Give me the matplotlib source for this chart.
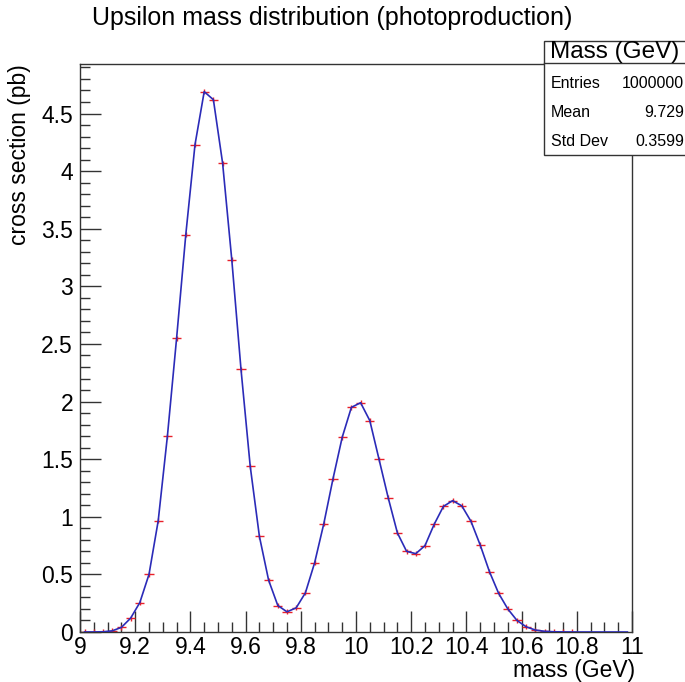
import numpy as np
import matplotlib
matplotlib.use("Agg")
import matplotlib.pyplot as plt
from matplotlib.ticker import MultipleLocator, FuncFormatter
from matplotlib.patches import Rectangle
from matplotlib.lines import Line2D

plt.rcParams['font.family'] = ['Liberation Sans', 'DejaVu Sans']

# histogram: 60 bins from 9 to 11 GeV, contents (pb)
bin_lo = 9.0
bin_hi = 11.0
n_bins = 60
xsec = [0.0001, 0.0005, 0.002, 0.01, 0.04, 0.12, 0.255, 0.50, 0.965, 1.70,
        2.55, 3.45, 4.23, 4.69, 4.62, 4.07, 3.23, 2.28, 1.44, 0.83,
        0.45, 0.23, 0.175, 0.21, 0.34, 0.60, 0.94, 1.33, 1.69, 1.95,
        1.99, 1.835, 1.50, 1.165, 0.86, 0.70, 0.68, 0.75, 0.935, 1.09,
        1.14, 1.095, 0.96, 0.755, 0.525, 0.336, 0.20, 0.10, 0.045, 0.017,
        0.006, 0.002, 0.0007, 0.0002, 0.0, 0.0, 0.0, 0.0, 0.0, 0.0]
xsec_err = 0.022

# stats box
stats_title = "Mass (GeV)"
stats_names = ["Entries", "Mean", "Std Dev"]
stats_values = ["1000000", "9.729", "0.3599"]

title = "Upsilon mass distribution (photoproduction)"
xlabel = "mass (GeV)"
ylabel = "cross section (pb)"

W, H = 685, 682
fig = plt.figure(figsize=(W / 100, H / 100), dpi=100)
ax = fig.add_axes([80 / W, 1 - 632 / H, (632 - 80) / W, (632 - 64) / H])

width = (bin_hi - bin_lo) / n_bins
centers = bin_lo + width * (np.arange(n_bins) + 0.5)
y = np.array(xsec)
filled = y > 0

ax.errorbar(centers[filled], y[filled], xerr=width / 2, yerr=xsec_err,
            fmt='none', ecolor='#e8202a', elinewidth=1.0, capsize=0, zorder=2)
ax.plot(centers, y, color='#2b2bb8', lw=1.2, zorder=3)

ax.set_xlim(bin_lo, bin_hi)
ax.set_ylim(0, 4.93)
ax.xaxis.set_major_locator(MultipleLocator(0.2))
ax.xaxis.set_minor_locator(MultipleLocator(0.05))
ax.yaxis.set_major_locator(MultipleLocator(0.5))
ax.yaxis.set_minor_locator(MultipleLocator(0.1))
fmt = FuncFormatter(lambda v, p: "%g" % round(v, 3))
ax.xaxis.set_major_formatter(fmt)
ax.yaxis.set_major_formatter(fmt)
ax.tick_params(which='both', direction='in', top=False, right=False,
               width=1, color='#333333')
ax.tick_params(which='major', length=15, labelsize=16.5)
ax.tick_params(which='minor', length=7)
ax.tick_params(axis='x', pad=3)
ax.tick_params(axis='y', pad=5)
for s in ax.spines.values():
    s.set_linewidth(1)
    s.set_color('#333333')

fig.text(332 / W, 1 - 18 / H, title, ha='center', va='center', fontsize=18)
fig.text(635 / W, 1 - 670 / H, xlabel, ha='right', va='center', fontsize=16.5)
fig.text(20 / W, 1 - 64 / H, ylabel, ha='center', va='top', rotation=90,
         fontsize=16.5)

# stats box
bx0, bx1, by0, by1 = 544, 687, 41, 155
fig.add_artist(Rectangle((bx0 / W, 1 - by1 / H), (bx1 - bx0) / W, (by1 - by0) / H,
                         transform=fig.transFigure, facecolor='white',
                         edgecolor='#333333', lw=1, zorder=5))
fig.add_artist(Line2D([bx0 / W, bx1 / W], [1 - 63 / H, 1 - 63 / H],
                      transform=fig.transFigure, color='#333333', lw=1, zorder=6))
fig.text((bx0 + 686) / 2 / W, 1 - 52 / H, stats_title, ha='center', va='center',
         fontsize=17.5, zorder=7)
for k, (name, val) in enumerate(zip(stats_names, stats_values)):
    yy = 1 - (84 + 28.5 * k) / H
    fig.text(551 / W, yy, name, ha='left', va='center', fontsize=11.5, zorder=7)
    fig.text(684 / W, yy, val, ha='right', va='center', fontsize=11.5, zorder=7)

fig.savefig("out.png", dpi=100)
